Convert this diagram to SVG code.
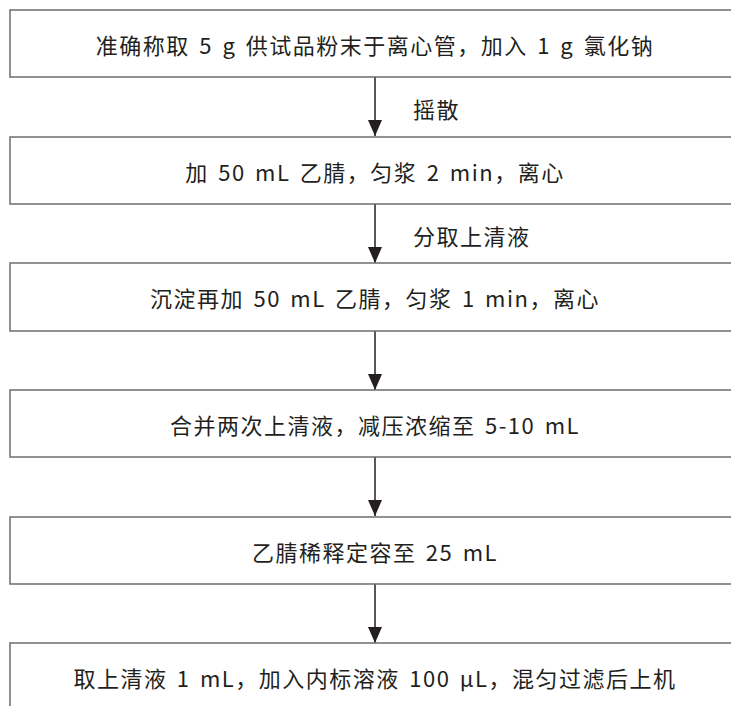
<svg xmlns="http://www.w3.org/2000/svg" width="731" height="706" viewBox="0 0 731 706">
<defs>
<style>
.box{fill:#fff;stroke:#6d6d6d;stroke-width:1.5}
.t{font-family:"Noto Sans CJK SC","Noto Sans",sans-serif;font-size:22px;fill:#231f20;letter-spacing:1.5px;word-spacing:3px;dominant-baseline:central}
.c{text-anchor:middle}
.ln{stroke:#231f20;stroke-width:1.5;fill:none;marker-end:url(#ah)}
</style>
<marker id="ah" viewBox="0 0 16 14" refX="16" refY="7" markerWidth="16" markerHeight="14" markerUnits="userSpaceOnUse" orient="auto">
<path d="M0,0 L16,7 L0,14 Z" fill="#231f20"/>
</marker>
</defs>
<rect width="731" height="706" fill="#fff"/>
<g id="connectors">
<line class="ln" x1="375" y1="77" x2="375" y2="136"/>
<line class="ln" x1="375" y1="204" x2="375" y2="263"/>
<line class="ln" x1="375" y1="331" x2="375" y2="390"/>
<line class="ln" x1="375" y1="457" x2="375" y2="516"/>
<line class="ln" x1="375" y1="584" x2="375" y2="643"/>
<text class="t" x="413" y="108">摇散</text>
<text class="t" x="413" y="235">分取上清液</text>
</g>
<g id="n1"><rect class="box" x="10" y="10" width="740" height="67"/><text class="t c" x="375" y="44">准确称取 5 g 供试品粉末于离心管，加入 1 g 氯化钠</text></g>
<g id="n2"><rect class="box" x="10" y="137" width="740" height="67"/><text class="t c" x="375" y="171">加 50 mL 乙腈，匀浆 2 min，离心</text></g>
<g id="n3"><rect class="box" x="10" y="263" width="740" height="68"/><text class="t c" x="375" y="297">沉淀再加 50 mL 乙腈，匀浆 1 min，离心</text></g>
<g id="n4"><rect class="box" x="10" y="390" width="740" height="67"/><text class="t c" x="375" y="424">合并两次上清液，减压浓缩至 5-10 mL</text></g>
<g id="n5"><rect class="box" x="10" y="517" width="740" height="67"/><text class="t c" x="375" y="551">乙腈稀释定容至 25 mL</text></g>
<g id="n6"><rect class="box" x="10" y="643" width="740" height="80"/><text class="t c" x="375" y="677">取上清液 1 mL，加入内标溶液 100 μL，混匀过滤后上机</text></g>
</svg>
